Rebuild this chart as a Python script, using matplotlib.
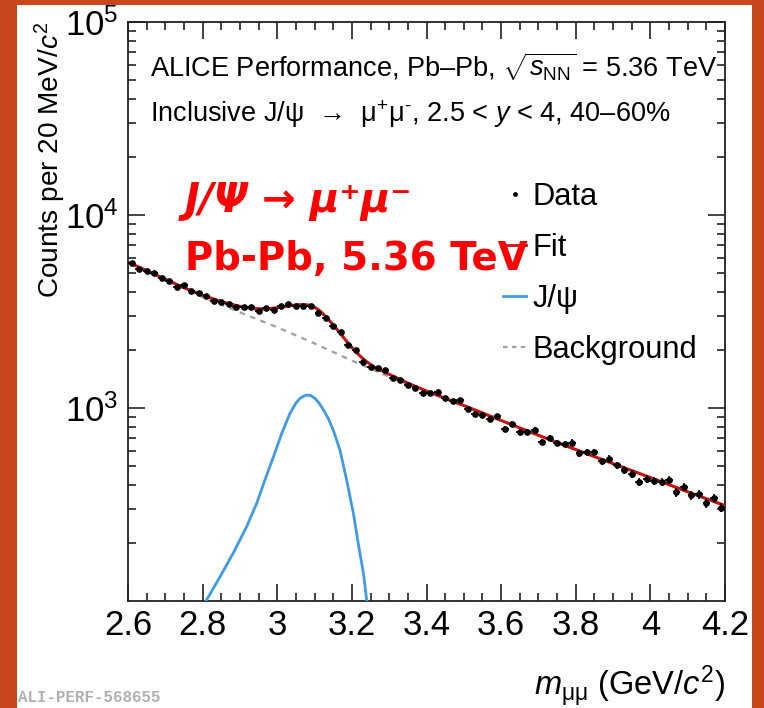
import numpy as np
import matplotlib
matplotlib.use("Agg")
import matplotlib.pyplot as plt
from matplotlib.patches import Rectangle
from matplotlib.lines import Line2D
from matplotlib.ticker import FixedLocator, MultipleLocator, NullFormatter, LogFormatterSciNotation

plt.rcParams['font.family'] = ['Liberation Sans', 'DejaVu Sans']
plt.rcParams['mathtext.fontset'] = 'custom'
plt.rcParams['mathtext.rm'] = 'Liberation Sans'
plt.rcParams['mathtext.it'] = 'Liberation Sans:italic'
plt.rcParams['mathtext.bf'] = 'Liberation Sans:bold'

# dimuon invariant mass, 20 MeV bins from 2.6 to 4.2 GeV/c2
mass_lo = 2.6
bin_width = 0.02
counts = [5660, 5240, 5140, 4990, 4720, 4550, 4260, 4320, 4030, 3945,
          3790, 3580, 3550, 3440, 3325, 3350, 3350, 3180, 3300, 3235,
          3360, 3450, 3390, 3380, 3360, 3090, 2925, 2665, 2470, 2130,
          1990, 1735, 1640, 1606, 1565, 1430, 1390, 1316, 1270, 1202,
          1190, 1212, 1122, 1082, 1100, 986, 935, 915, 880, 905,
          776, 823, 754, 754, 769, 668, 702, 658, 650, 662,
          582, 590, 590, 530, 545, 505, 479, 457, 415, 430,
          421, 416, 425, 367, 391, 354, 358, 322, 340, 305]

# total fit
fit_mass = [2.60, 2.65, 2.70, 2.75, 2.80, 2.85, 2.90, 2.92, 2.94, 2.96, 2.98,
            3.00, 3.02, 3.04, 3.06, 3.08, 3.09, 3.10, 3.11, 3.12, 3.13, 3.14,
            3.15, 3.16, 3.17, 3.18, 3.19, 3.20, 3.21, 3.22, 3.23, 3.24, 3.25,
            3.26, 3.28, 3.30, 3.35, 3.40, 3.50, 3.60, 3.70, 3.80, 3.90, 4.00,
            4.10, 4.20]
fit_counts = [5700, 5150, 4650, 4200, 3840, 3560, 3360, 3310, 3275, 3262, 3275,
              3310, 3355, 3400, 3430, 3425, 3395, 3330, 3230, 3110, 2975, 2835,
              2695, 2555, 2420, 2290, 2170, 2060, 1960, 1875, 1800, 1735, 1680,
              1632, 1560, 1495, 1345, 1225, 1030, 862, 722, 609, 515, 436,
              368, 312]

# J/psi signal
jpsi_mass = [2.78, 2.809, 2.847, 2.882, 2.918, 2.945, 2.967, 2.990, 3.012, 3.034,
             3.050, 3.061, 3.070, 3.079, 3.090, 3.101, 3.112, 3.124, 3.137, 3.150,
             3.168, 3.186, 3.204, 3.217, 3.231, 3.240, 3.26]
jpsi_counts = [70, 100, 134, 177, 243, 321, 424, 560, 739, 938,
               1060, 1122, 1150, 1167, 1160, 1122, 1060, 977, 880, 769,
               606, 424, 285, 199, 139, 100, 50]

# background
bkg_mass = [2.60, 2.70, 2.80, 2.90, 3.00, 3.10, 3.20, 3.30, 3.40, 3.50,
            3.60, 3.70, 3.80, 3.90, 4.00, 4.10, 4.20]
bkg_counts = [5650, 4600, 3750, 3130, 2620, 2160, 1760, 1450, 1217, 1023,
              859, 721, 608, 514, 435, 368, 312]

centers = mass_lo + bin_width * (np.arange(len(counts)) + 0.5)
counts = np.array(counts, dtype=float)

W, H = 764, 708
fig = plt.figure(figsize=(W / 100, H / 100), dpi=100)
fig.patch.set_facecolor('#c8461b')
fig.add_artist(Rectangle((17 / W, 0), (752 - 17) / W, 703 / H, transform=fig.transFigure,
                         facecolor='white', edgecolor='none', zorder=-5))

ax = fig.add_axes([128 / W, 1 - 601 / H, (725 - 128) / W, (601 - 22) / H])
ax.set_facecolor('none')

ax.plot(bkg_mass, bkg_counts, color='#a0a0a0', lw=1.6, ls=(0, (2.5, 2.5)), zorder=2)
ax.plot(jpsi_mass, jpsi_counts, color='#3f9be6', lw=2.0, zorder=3)
ax.plot(fit_mass, fit_counts, color='#cc1010', lw=2.2, zorder=4)
ax.errorbar(centers, counts, xerr=bin_width / 2, yerr=np.sqrt(counts), fmt='o', ms=3.8,
            color='black', elinewidth=1.2, capsize=0, zorder=5)

ax.set_yscale('log')
ax.set_xlim(2.6, 4.2)
ax.set_ylim(100, 1e5)

ax.xaxis.set_minor_locator(MultipleLocator(0.05))
ax.set_xticks([2.6, 2.8, 3.0, 3.2, 3.4, 3.6, 3.8, 4.0, 4.2])
ax.set_xticklabels(['2.6', '2.8', '3', '3.2', '3.4', '3.6', '3.8', '4', '4.2'])
ax.yaxis.set_major_locator(FixedLocator([1e3, 1e4, 1e5]))
ax.yaxis.set_major_formatter(LogFormatterSciNotation())
ax.yaxis.set_minor_locator(FixedLocator([k * 10 ** e for e in (2, 3, 4) for k in range(2, 10)]))
ax.yaxis.set_minor_formatter(NullFormatter())

ax.tick_params(which='both', direction='in', top=True, right=True, colors='#222222',
               labelcolor='black', labelsize=25, width=1.2)
ax.tick_params(which='major', length=12)
ax.tick_params(which='minor', length=6)
ax.tick_params(axis='x', pad=6)
ax.tick_params(axis='y', pad=7)
for s in ax.spines.values():
    s.set_linewidth(1.3)
    s.set_color('#222222')

fig.text(50 / W, 1 - 22 / H, 'Counts per 20 MeV/$c^{2}$', rotation=90, ha='center', va='top',
         fontsize=20.2)
fig.text(725 / W, 1 - 686 / H, r'$m_{\mathrm{μμ}}$ (GeV/$c^{2}$)', ha='right', va='center',
         fontsize=23.5)

fig.text(150 / W, 1 - 67 / H, r'ALICE Performance, Pb–Pb, $\sqrt{s_{\mathrm{NN}}}$ = 5.36 TeV',
         ha='left', va='center', fontsize=19.5)
fig.text(150 / W, 1 - 114 / H, r'Inclusive J/ψ  →  μ$^{+}$μ$^{\mathrm{‐}}$, 2.5 < $y$ < 4, 40–60%',
         ha='left', va='center', fontsize=19.5)

handles = [Line2D([], [], marker='o', ms=2.5, ls='none', color='black'),
           Line2D([], [], color='#cc1010', lw=2.0),
           Line2D([], [], color='#3f9be6', lw=2.0),
           Line2D([], [], color='#a0a0a0', lw=1.6, ls=(0, (2, 2)))]
labels = ['Data', 'Fit', 'J/ψ', 'Background']
fig.legend(handles, labels, loc='upper left', bbox_to_anchor=(503 / W, 1 - 182 / H),
           frameon=False, fontsize=22.2, handlelength=0.75, handletextpad=0.2,
           labelspacing=0.68, borderpad=0, borderaxespad=0)

fig.text(185 / W, 1 - 212 / H, 'J/Ψ → μ⁺μ⁻', color='#ff0000', fontsize=29,
         fontweight='bold', fontstyle='italic', family=['DejaVu Sans'], ha='left', va='baseline',
         zorder=10)
fig.text(185 / W, 1 - 270 / H, 'Pb-Pb, 5.36 TeV', color='#ff0000', fontsize=27.8,
         fontweight='bold', family=['DejaVu Sans'], ha='left', va='baseline', zorder=10)

fig.text(18 / W, 1 - 698 / H, 'ALI-PERF-568655', color='#b0b0b0', fontsize=11.3,
         family=['Liberation Mono'], fontweight='bold', ha='left', va='center')

fig.savefig('out.png', dpi=100, facecolor=fig.get_facecolor())
